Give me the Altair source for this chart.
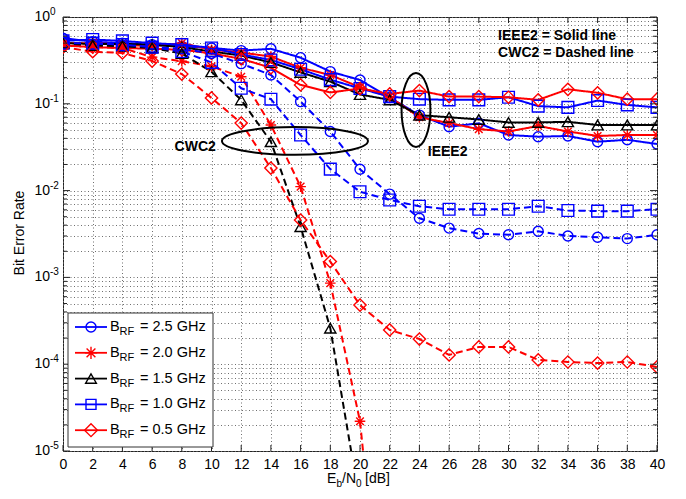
import altair as alt
import pandas as pd

FONT = "Liberation Sans"

# ---------------- data ----------------
x_db = [0, 2, 4, 6, 8, 10, 12, 14, 16, 18, 20, 22, 24, 26, 28, 30, 32, 34, 36, 38, 40]

# IEEE2 (solid lines)
ieee_25 = [0.57, 0.52, 0.50, 0.48, 0.46, 0.44, 0.41, 0.43, 0.34, 0.235, 0.188, 0.118, 0.074,
           0.0545, 0.0596, 0.0437, 0.0418, 0.0426, 0.0366, 0.0385, 0.0344]
ieee_20 = [0.50, 0.50, 0.48, 0.46, 0.50, 0.42, 0.39, 0.35, 0.26, 0.215, 0.155, 0.12, 0.070,
           0.060, 0.051, 0.048, 0.0555, 0.048, 0.0426, 0.0437, 0.0437]
ieee_15 = [0.50, 0.49, 0.49, 0.48, 0.45, 0.40, 0.36, 0.30, 0.23, 0.18, 0.128, 0.111, 0.074,
           0.070, 0.066, 0.061, 0.061, 0.062, 0.057, 0.057, 0.057]
ieee_10 = [0.53, 0.55, 0.53, 0.50, 0.48, 0.44, 0.37, 0.32, 0.25, 0.19, 0.15, 0.121, 0.113,
           0.111, 0.111, 0.119, 0.094, 0.091, 0.109, 0.097, 0.091]
ieee_05 = [0.47, 0.45, 0.44, 0.43, 0.42, 0.38, 0.33, 0.26, 0.165, 0.135, 0.15, 0.13, 0.142,
           0.121, 0.121, 0.119, 0.111, 0.147, 0.134, 0.113, 0.113]

# CWC2 (dashed lines)
cwc_25 = [0.50, 0.48, 0.47, 0.45, 0.43, 0.38, 0.29, 0.215, 0.106, 0.048, 0.0176, 0.0091, 0.0048,
          0.0037, 0.0032, 0.0031, 0.0034, 0.0030, 0.0029, 0.0028, 0.0031]
cwc_20 = [0.48, 0.45, 0.44, 0.345, 0.31, 0.27, 0.205, 0.057, 0.0111, 8.6e-4, 2.2e-5, 1e-8]
cwc_15 = [0.50, 0.47, 0.46, 0.44, 0.38, 0.234, 0.111, 0.0366, 0.00384, 2.6e-4, 2.5e-6]
cwc_10 = [0.50, 0.50, 0.48, 0.45, 0.40, 0.30, 0.151, 0.113, 0.0437, 0.0177, 0.0097, 0.0078,
          0.0066, 0.0061, 0.0061, 0.0061, 0.0066, 0.0059, 0.0058, 0.0058, 0.0061]
cwc_05 = [0.45, 0.398, 0.385, 0.311, 0.220, 0.117, 0.060, 0.0182, 0.00458, 0.00152, 4.8e-4,
          2.48e-4, 1.95e-4, 1.28e-4, 1.58e-4, 1.58e-4, 1.12e-4, 1.06e-4, 1.03e-4, 1.06e-4, 9.3e-5]

bw_labels = ["2.5", "2.0", "1.5", "1.0", "0.5"]
bw_colors = ["#0000ff", "#ff0000", "#000000", "#0000ff", "#ff0000"]

y_major = [1, 1e-1, 1e-2, 1e-3, 1e-4, 1e-5]
y_exponents = ["0", "-1", "-2", "-3", "-4", "-5"]
y_minor = [m * 10.0 ** e for e in range(-5, 0) for m in range(2, 10)]

# ---------------- table ----------------
series = [
    ("IEEE2", "2.5", ieee_25), ("IEEE2", "2.0", ieee_20), ("IEEE2", "1.5", ieee_15),
    ("IEEE2", "1.0", ieee_10), ("IEEE2", "0.5", ieee_05),
    ("CWC2", "2.5", cwc_25), ("CWC2", "2.0", cwc_20), ("CWC2", "1.5", cwc_15),
    ("CWC2", "1.0", cwc_10), ("CWC2", "0.5", cwc_05),
]
rows = []
for scheme, bw, vals in series:
    for xv, v in zip(x_db, vals):
        rows.append({"x": xv, "ber": v, "bw": bw, "scheme": scheme})
df = pd.DataFrame(rows)

ASTER = "M -1 0 L 1 0 M 0 -1 L 0 1 M -0.72 -0.72 L 0.72 0.72 M -0.72 0.72 L 0.72 -0.72"
shapes = ["circle", ASTER, "triangle-up", "square", "diamond"]
sizes = [100, 150, 115, 100, 165]

W, H = 594, 434
xscale = alt.Scale(domain=[0, 40], nice=False, zero=False)
yscale = alt.Scale(type="log", domain=[1e-5, 1], nice=False)

x_axis = alt.Axis(values=x_db, grid=True, ticks=False, domain=False, title=None,
                  labelFontSize=14, labelFont=FONT, labelColor="#000", labelPadding=6,
                  gridColor="#6f6f6f", gridDash=[1, 2.5], gridWidth=1, labelFlush=False)
y_axis = alt.Axis(values=y_major + y_minor, grid=True, ticks=False, domain=False,
                  labels=False, title=None, gridColor="#6f6f6f", gridDash=[1, 2.5], gridWidth=1)

X = alt.X("x:Q", scale=xscale, axis=x_axis)
Y = alt.Y("ber:Q", scale=yscale, axis=y_axis)

color = alt.Color("bw:N", scale=alt.Scale(domain=bw_labels, range=bw_colors), legend=None)
shape = alt.Shape("bw:N", scale=alt.Scale(domain=bw_labels, range=shapes), legend=None)
size = alt.Size("bw:N", scale=alt.Scale(domain=bw_labels, range=sizes), legend=None)
dash = alt.StrokeDash("scheme:N", scale=alt.Scale(domain=["IEEE2", "CWC2"],
                                                   range=[[1, 0], [7, 4]]), legend=None)

base = alt.Chart(df)
lines = base.mark_line(clip=True, strokeWidth=2).encode(
    x=X, y=Y, color=color, strokeDash=dash, detail="scheme:N")
points = base.mark_point(clip=True, filled=False, strokeWidth=1.4, opacity=1).encode(
    x=X, y=Y, color=color, shape=shape, size=size)

# ---------------- inward ticks ----------------
xt = alt.Chart(pd.DataFrame({"x": x_db}))
xt_bottom = xt.mark_rule(color="#222").encode(x=X, y=alt.value(H), y2=alt.value(H - 6))
xt_top = xt.mark_rule(color="#222").encode(x=X, y=alt.value(0), y2=alt.value(6))
ymaj = alt.Chart(pd.DataFrame({"ber": y_major}))
ymin = alt.Chart(pd.DataFrame({"ber": y_minor}))
yt1 = ymaj.mark_rule(color="#222").encode(y=Y, x=alt.value(0), x2=alt.value(7))
yt2 = ymaj.mark_rule(color="#222").encode(y=Y, x=alt.value(W), x2=alt.value(W - 7))
yt3 = ymin.mark_rule(color="#222").encode(y=Y, x=alt.value(0), x2=alt.value(4))
yt4 = ymin.mark_rule(color="#222").encode(y=Y, x=alt.value(W), x2=alt.value(W - 4))

# ---------------- y tick labels 10^k ----------------
ylab_df = pd.DataFrame({"ber": y_major, "exp": y_exponents})
ylab_base = alt.Chart(ylab_df).mark_text(align="right", baseline="middle", fontSize=14,
                                         font=FONT, color="#000").encode(
    y=Y, x=alt.value(-13), text=alt.value("10"))
ylab_exp = alt.Chart(ylab_df).mark_text(align="left", baseline="middle", fontSize=10,
                                        font=FONT, color="#000", dy=-5).encode(
    y=Y, x=alt.value(-13), text="exp:N")

one = pd.DataFrame({"a": [0]})


def txt(s, px, py, fs=14, bold=False, align="left", angle=0):
    return alt.Chart(one).mark_text(align=align, baseline="middle", fontSize=fs, font=FONT,
                                    fontWeight="bold" if bold else "normal", color="#000",
                                    angle=angle).encode(
        x=alt.value(px), y=alt.value(py), text=alt.value(s))


# axis titles
ytitle = txt("Bit Error Rate", -43, 216, fs=14, align="center", angle=270)
xtitle = [
    txt("E", 264, 462),
    txt("b", 273.5, 467, fs=10),
    txt("/N", 279, 462),
    txt("0", 293, 467, fs=10),
    txt("[dB]", 302, 462),
]

# ---------------- annotations (data coordinates) ----------------
ann_df = pd.DataFrame({
    "x": [29.3, 29.3, 8.9, 25.9],
    "ber": [0.60, 0.385, 0.0314, 0.0275],
    "t": ["IEEE2 = Solid line", "CWC2 = Dashed line", "CWC2", "IEEE2"],
})
ann_left = alt.Chart(ann_df.iloc[:2]).mark_text(align="left", baseline="middle", fontSize=14,
                                                 fontWeight="bold", font=FONT, color="#000").encode(
    x=X, y=Y, text="t:N")
ann_center = alt.Chart(ann_df.iloc[2:]).mark_text(align="center", baseline="middle", fontSize=14,
                                                   fontWeight="bold", font=FONT, color="#000").encode(
    x=X, y=Y, text="t:N")

ELL_H = "M -1 0 A 1 0.19 0 1 0 1 0 A 1 0.19 0 1 0 -1 0"
ELL_V = "M 0 -1 A 0.39 1 0 1 0 0 1 A 0.39 1 0 1 0 0 -1"
ell1 = alt.Chart(pd.DataFrame({"x": [15.62], "ber": [0.0373]})).mark_point(
    shape=ELL_H, size=146 * 146, filled=False, color="#000", strokeWidth=2, opacity=1).encode(x=X, y=Y)
ell2 = alt.Chart(pd.DataFrame({"x": [23.77], "ber": [0.0848]})).mark_point(
    shape=ELL_V, size=74 * 74, filled=False, color="#000", strokeWidth=2, opacity=1).encode(x=X, y=Y)

# ---------------- legend (drawn) ----------------
legend_layers = [
    alt.Chart(one).mark_rect(fill="#fff", stroke="#333", strokeWidth=1).encode(
        x=alt.value(5), x2=alt.value(150), y=alt.value(296), y2=alt.value(430))
]
for i, (lab, col, shp, sz) in enumerate(zip(bw_labels, bw_colors, shapes, sizes)):
    yy = 310 + i * 25.8
    legend_layers.append(alt.Chart(one).mark_rule(color=col, strokeWidth=1.8).encode(
        x=alt.value(12), x2=alt.value(44), y=alt.value(yy)))
    legend_layers.append(alt.Chart(one).mark_point(shape=shp, size=sz, color=col, filled=False,
                                                   strokeWidth=1.4, opacity=1).encode(
        x=alt.value(28), y=alt.value(yy)))
    legend_layers.append(txt("B", 47, yy, fs=14.5))
    legend_layers.append(txt("RF", 56.5, yy + 5, fs=11))
    legend_layers.append(txt("= " + lab + " GHz", 77, yy, fs=14.5))

chart = alt.layer(
    lines, points, xt_bottom, xt_top, yt1, yt2, yt3, yt4,
    ylab_base, ylab_exp, ytitle, *xtitle,
    ann_left, ann_center, ell1, ell2,
    *legend_layers,
).properties(
    width=W, height=H,
    autosize=alt.AutoSizeParams(type="none"),
    padding={"left": 63, "top": 17, "right": 29, "bottom": 48},
    background="#ffffff",
).configure_view(stroke="#222", strokeWidth=1)

chart.save("out.html", embed_options={"renderer": "svg", "actions": False})
